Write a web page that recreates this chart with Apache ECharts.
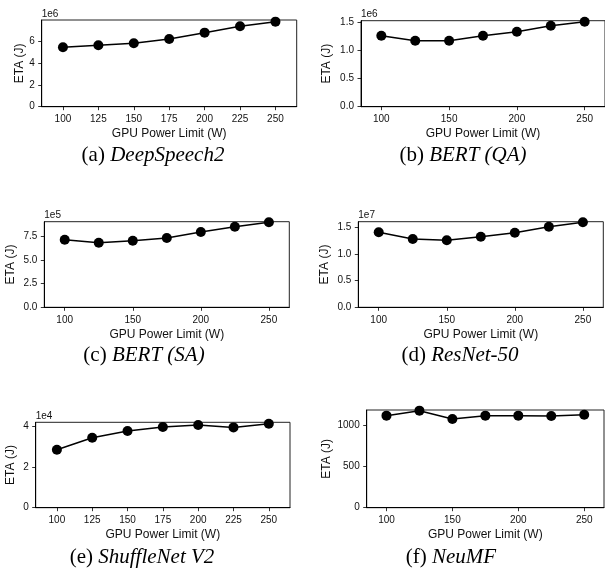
<!DOCTYPE html>
<html>
<head>
<meta charset="utf-8">
<script src="https://cdn.jsdelivr.net/npm/echarts@6/dist/echarts.min.js"></script>
<style>
html,body{margin:0;padding:0;background:#fff;}
#chart{width:605px;height:578px;}
</style>
</head>
<body>
<div id="chart"></div>
<script>
// ---- data ----
const powerLimits = [100, 125, 150, 175, 200, 225, 250];
const deepSpeech2 = [5.45e6, 5.63e6, 5.82e6, 6.21e6, 6.79e6, 7.37e6, 7.80e6];
const bertQA      = [1.259e6, 1.170e6, 1.170e6, 1.259e6, 1.330e6, 1.436e6, 1.505e6];
const bertSA      = [7.12e5, 6.81e5, 7.02e5, 7.30e5, 7.93e5, 8.49e5, 8.96e5];
const resnet50    = [1.407e7, 1.281e7, 1.257e7, 1.325e7, 1.400e7, 1.512e7, 1.595e7];
const shuffleNet  = [2.85e4, 3.44e4, 3.77e4, 3.97e4, 4.07e4, 3.95e4, 4.13e4];
const neuMF       = [1122, 1183, 1082, 1122, 1122, 1118, 1134];

const xTicks25 = [100, 125, 150, 175, 200, 225, 250];
const xTicks50 = [100, 150, 200, 250];
const yTicksA = [0, 2e6, 4e6, 6e6];
const yTicksB = [0, 0.5e6, 1.0e6, 1.5e6];
const yTicksC = [0, 2.5e5, 5.0e5, 7.5e5];
const yTicksD = [0, 0.5e7, 1.0e7, 1.5e7];
const yTicksE = [0, 2e4, 4e4];
const yTicksF = [0, 500, 1000];

const captionLabels = ['(a) ', '(b) ', '(c) ', '(d) ', '(e) ', '(f) '];
const captionNames = ['DeepSpeech2', 'BERT (QA)', 'BERT (SA)', 'ResNet-50', 'ShuffleNet V2', 'NeuMF'];
const offsetTexts = ['1e6', '1e6', '1e5', '1e7', '1e4', ''];

// ---- layout ----
const panels = [
  {data: deepSpeech2, xt: xTicks25, yt: yTicksA, scale: 1e6, dec: 0, ymax: 7.95e6, left: 41.7, top: 20, width: 255, height: 86.7, yGap: 16, cap: [153, 155]},
  {data: bertQA, xt: xTicks50, yt: yTicksB, scale: 1e6, dec: 1, ymax: 1.525e6, left: 361, top: 20.7, width: 246, height: 86, yGap: 28, cap: [463, 155]},
  {data: bertSA, xt: xTicks50, yt: yTicksC, scale: 1e5, dec: 1, ymax: 9.02e5, left: 44.3, top: 221.7, width: 245, height: 85.6, yGap: 28, cap: [144, 355]},
  {data: resnet50, xt: xTicks50, yt: yTicksD, scale: 1e7, dec: 1, ymax: 1.606e7, left: 358.3, top: 221.7, width: 245, height: 85.6, yGap: 28, cap: [460, 355]},
  {data: shuffleNet, xt: xTicks25, yt: yTicksE, scale: 1e4, dec: 0, ymax: 4.2e4, left: 35.7, top: 422.3, width: 254.3, height: 85.4, yGap: 19, cap: [142, 557]},
  {data: neuMF, xt: xTicks50, yt: yTicksF, scale: 1, dec: 0, ymax: 1191, left: 366.7, top: 410, width: 237.3, height: 97.7, yGap: 34, cap: [451, 557]}
];

const sans = 'Liberation Sans, Arial, Helvetica, sans-serif';
const serif = 'Liberation Serif, Times New Roman, serif';
const ink = '#000';

const grid = [], xAxis = [], yAxis = [], series = [], graphic = [];
panels.forEach((p, i) => {
  grid.push({left: p.left, top: p.top, width: p.width, height: p.height, show: true,
    borderColor: '#222', borderWidth: 1, backgroundColor: 'transparent', containLabel: false});
  xAxis.push({
    type: 'value', gridIndex: i, min: 85, max: 265,
    name: 'GPU Power Limit (W)', nameLocation: 'middle', nameGap: 21, nameMoveOverlap: false,
    nameTextStyle: {fontFamily: sans, fontSize: 12, color: '#111'},
    axisLine: {show: true, onZero: false, lineStyle: {color: ink, width: 1}},
    axisTick: {show: true, length: 3.5, lineStyle: {color: ink, width: 0.8}, customValues: p.xt},
    axisLabel: {fontFamily: sans, fontSize: 10, color: '#111', margin: 7.5, customValues: p.xt},
    splitLine: {show: false}
  });
  yAxis.push({
    type: 'value', gridIndex: i, min: 0, max: p.ymax,
    name: 'ETA (J)', nameLocation: 'middle', nameGap: p.yGap, nameMoveOverlap: false,
    nameTextStyle: {fontFamily: sans, fontSize: 12, color: '#111'},
    axisLine: {show: true, onZero: false, lineStyle: {color: ink, width: 1}},
    axisTick: {show: true, length: 3.5, lineStyle: {color: ink, width: 0.8}, customValues: p.yt},
    axisLabel: {fontFamily: sans, fontSize: 10, color: '#111', margin: 7, customValues: p.yt,
      formatter: (v) => (v / p.scale).toFixed(p.dec)},
    splitLine: {show: false}
  });
  series.push({
    type: 'line', xAxisIndex: i, yAxisIndex: i,
    data: powerLimits.map((x, k) => [x, p.data[k]]),
    symbol: 'circle', symbolSize: 10, clip: false,
    lineStyle: {color: ink, width: 1.5}, itemStyle: {color: ink},
    emphasis: {disabled: true}, animation: false
  });
  if (offsetTexts[i]) {
    graphic.push({type: 'text', left: p.left, top: p.top - 11,
      style: {text: offsetTexts[i], font: '10px ' + sans, fill: '#111'}});
  }
  graphic.push({type: 'text', x: p.cap[0], y: p.cap[1],
    style: {
      text: '{n|' + captionLabels[i] + '}{it|' + captionNames[i] + '}',
      align: 'center', verticalAlign: 'middle',
      rich: {
        n: {fontFamily: serif, fontSize: 21, fill: '#000'},
        it: {fontFamily: serif, fontSize: 21, fontStyle: 'italic', fill: '#000'}
      }
    }});
});

const chart = echarts.init(document.getElementById('chart'), null, {renderer: 'canvas'});
chart.setOption({animation: false, grid, xAxis, yAxis, series, graphic});
</script>
</body>
</html>
